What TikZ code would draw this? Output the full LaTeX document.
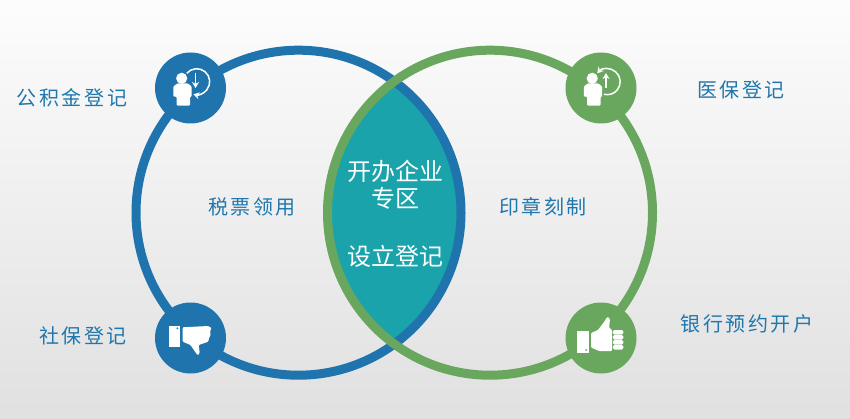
\documentclass[tikz,border=0pt]{standalone}
\usepackage{fontspec}
\usepackage{xcolor}
\usepackage{tikz}
\usetikzlibrary{arrows.meta}
\newfontfamily\cjk[LetterSpace=13]{Noto Sans CJK SC}
\newfontfamily\cjkmid{Noto Sans CJK SC}
\definecolor{vennblue}{HTML}{1F74AE}
\definecolor{venngreen}{HTML}{69A75F}
\definecolor{venntext}{HTML}{1F77AE}
\definecolor{vennteal}{HTML}{1AA3AB}
\begin{document}
\begin{tikzpicture}[
  x=1pt, y=-1pt,
  ring/.style={circle, draw, line width=9pt, minimum size=325pt, inner sep=0pt},
  badge/.style={circle, minimum size=71pt, inner sep=0pt},
  sidetext/.style={text=venntext, font=\cjk\fontsize{20}{20}\selectfont, inner sep=0pt},
  midtext/.style={text=white, font=\cjkmid\fontsize{24}{24}\selectfont, inner sep=0pt},
  personclock/.pic={
    \fill[white] (-8.8,-9.7) circle (5.6);
    \fill[white] [rounded corners=1pt] (-17.2,-1.5) -- (-13,-4.7) -- (-3,-4.7) -- (1.2,-1.5) -- (1.2,8.7) -- (-0.5,8.7) -- (-0.5,17.7) -- (-13.8,17.7) -- (-13.8,8.7) -- (-17.2,8.7) -- cycle;
    \draw[white, line width=1.5pt] (-3.76,-14.66) arc[start angle=-140, end angle=105, radius=13];
    \draw[white, line width=1.8pt, pic actions] (5,-15) -- (5,0);
  },
  thumbup/.pic={
    \fill[white] (-23.7,-7) rectangle (-12,15.3);
    \fill[venngreen] (-15,12) circle (1);
    \fill[white] [rounded corners=1pt] (-10,-5) -- (-3,-8) -- (3,-16) -- (6.5,-21.3) -- (9,-19) -- (8,-10) -- (11,-8.5) -- (11,13) -- (-2,13) -- (-10,9.5) -- cycle;
    \foreach \rowy in {-8,-3,2,7}
      \fill[white, rounded corners=1.5pt] (11.8,\rowy) rectangle (22.3,\rowy+4.5);
  },
  thumbdown/.pic={
    \fill[white] (-21.2,-12.3) rectangle (-10.5,8.7);
    \fill[vennblue] (-13.2,-9.7) circle (1);
    \fill[white] [rounded corners=1pt] (-7.8,-10.7) -- (17.8,-12) -- (21.2,-9.7) -- (19.5,-7) -- (20.2,-3) -- (18.5,0) -- (17.8,3.7) -- (8.2,7) -- (9.2,15) -- (7.2,17.5) -- (0,7) -- (-7.8,3.7) -- cycle;
  }
]
\fill[top color=white!99!black, bottom color=white!88!black] (0,0) rectangle (850,419);
\useasboundingbox (0,0) rectangle (850,419);

\begin{scope}
  \clip (298.5,212.7) circle (162.5);
  \fill[vennteal] (490,212.7) circle (162.5);
\end{scope}
\node[ring, draw=vennblue] (blue) at (298.5,212.7) {};
\node[ring, draw=venngreen] (green) at (490,212.7) {};

\node[badge, fill=vennblue] (tl) at (190.5,88) {};
\node[badge, fill=venngreen] (tr) at (601,88) {};
\node[badge, fill=vennblue] (bl) at (190.5,338) {};
\node[badge, fill=venngreen] (br) at (601,338) {};

\pic[-{Stealth[length=6pt,width=7pt]}] at (tl) {personclock};
\pic[{Stealth[length=6pt,width=7pt]}-] at (tr) {personclock};
\pic at (bl) {thumbdown};
\pic at (br) {thumbup};

\node[sidetext] (gjj) at (72,98) {公积金登记};
\node[sidetext] (yb) at (741,90) {医保登记};
\node[sidetext] (sp) at (252,207) {税票领用};
\node[sidetext] (yz) at (543,207) {印章刻制};
\node[sidetext] (sb) at (83,336) {社保登记};
\node[sidetext] (yh) at (747,324) {银行预约开户};
\node[midtext] (kb) at (395,171) {开办企业};
\node[midtext] (zq) at (395,198) {专区};
\node[midtext] (sl) at (395,256) {设立登记};
\end{tikzpicture}
\end{document}
